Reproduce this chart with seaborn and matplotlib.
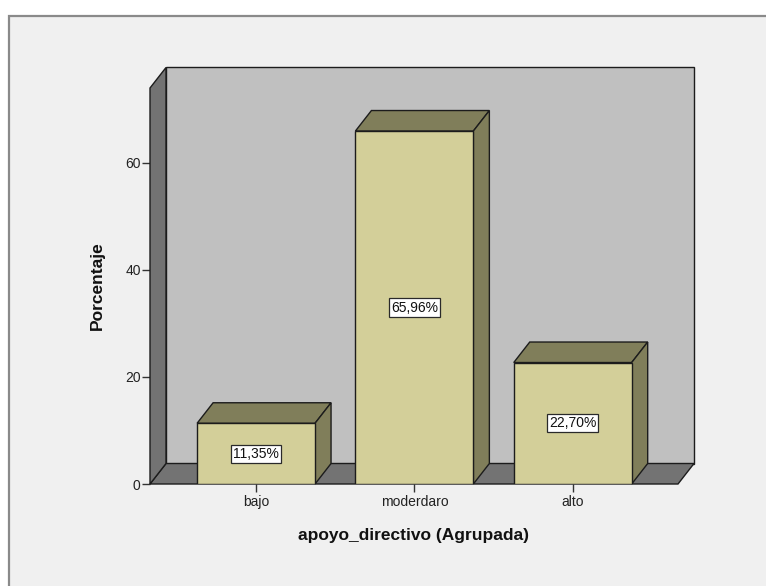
import matplotlib
matplotlib.use("Agg")
import matplotlib.pyplot as plt
from matplotlib.patches import Polygon, Rectangle
import seaborn as sns
import pandas as pd

# Data
categories = ["bajo", "moderdaro", "alto"]
percentages = [11.35, 65.96, 22.70]
value_labels = ["11,35%", "65,96%", "22,70%"]
y_ticks = [0, 20, 40, 60]

FRONT = "#d3cf99"
SHADE = "#807e5a"
WALL = "#c0c0c0"
FLOOR = "#737373"
EDGE = "#1c1c1c"
BG = "#f0f0f0"

sns.set_theme(style="white")
plt.rcParams["font.family"] = ["Liberation Sans", "DejaVu Sans"]

W, H = 766, 586
fig = plt.figure(figsize=(W / 100, H / 100), dpi=100, facecolor="white")

# Panel frame
fig.add_artist(Rectangle((8.5 / W, -0.05), 1.3, (H - 15.5) / H + 0.05,
                         transform=fig.transFigure, facecolor=BG,
                         edgecolor="#8a8a8a", linewidth=1.6, zorder=0))

ax = fig.add_axes([150 / W, (H - 484) / H, 528 / W, 396 / H])
ax.set_facecolor("none")

df = pd.DataFrame({"cat": categories, "pct": percentages})
sns.barplot(data=df, x="cat", y="pct", color=FRONT, saturation=1,
            width=0.745, edgecolor=EDGE, linewidth=1.0, ax=ax, zorder=5)

x0, x1 = -0.67, 2.665
y0, y1 = 0, 74
ax.set_xlim(x0, x1)
ax.set_ylim(y0, y1)

# Depth offset (pixels) converted to data units
fig.canvas.draw()
px_x = ax.transData.transform((1, 0))[0] - ax.transData.transform((0, 0))[0]
px_y = ax.transData.transform((0, 1))[1] - ax.transData.transform((0, 0))[1]
dx = 16 / px_x
dy = 20.5 / px_y

kw = dict(edgecolor=EDGE, linewidth=1.0, clip_on=False, joinstyle="miter")
# Back wall
ax.add_patch(Polygon([(x0 + dx, y0 + dy), (x1 + dx, y0 + dy),
                      (x1 + dx, y1 + dy), (x0 + dx, y1 + dy)],
                     facecolor=WALL, zorder=1, **kw))
# Floor
ax.add_patch(Polygon([(x0, y0), (x1, y0), (x1 + dx, y0 + dy), (x0 + dx, y0 + dy)],
                     facecolor=FLOOR, zorder=2, **kw))
# Left wall
ax.add_patch(Polygon([(x0, y0), (x0 + dx, y0 + dy), (x0 + dx, y1 + dy), (x0, y1)],
                     facecolor=FLOOR, zorder=2, **kw))

# Top and side faces of each bar
for bar, lab in zip(ax.patches[:len(categories)], value_labels):
    bx0 = bar.get_x()
    bx1 = bx0 + bar.get_width()
    h = bar.get_height()
    ax.add_patch(Polygon([(bx0, h), (bx1, h), (bx1 + dx, h + dy), (bx0 + dx, h + dy)],
                         facecolor=SHADE, zorder=4, **kw))
    ax.add_patch(Polygon([(bx1, 0), (bx1 + dx, dy), (bx1 + dx, h + dy), (bx1, h)],
                         facecolor=SHADE, zorder=4, **kw))
    ax.text((bx0 + bx1) / 2, h / 2, lab, ha="center", va="center",
            fontsize=10, color="#111111", zorder=7,
            bbox=dict(boxstyle="square,pad=0.15", facecolor="white",
                      edgecolor="#2a2a2a", linewidth=0.9))

for s in ax.spines.values():
    s.set_visible(False)

ax.set_yticks(y_ticks)
ax.set_yticklabels([str(t) for t in y_ticks])
ax.tick_params(axis="both", which="both", direction="out", length=5.5, width=1.0,
               color="#333333", labelsize=10, labelcolor="#222222", pad=1.2,
               left=True, bottom=True)
ax.tick_params(axis="x", pad=2.5)

ax.set_ylabel("Porcentaje", fontsize=12.5, fontweight="bold", color="#111111")
ax.set_xlabel("apoyo_directivo (Agrupada)", fontsize=12.5, fontweight="bold",
              color="#111111")
ax.yaxis.set_label_coords(-0.085, 0.5)
ax.xaxis.set_label_coords(0.5, -0.111)

fig.savefig("out.png", dpi=100, facecolor="white")
